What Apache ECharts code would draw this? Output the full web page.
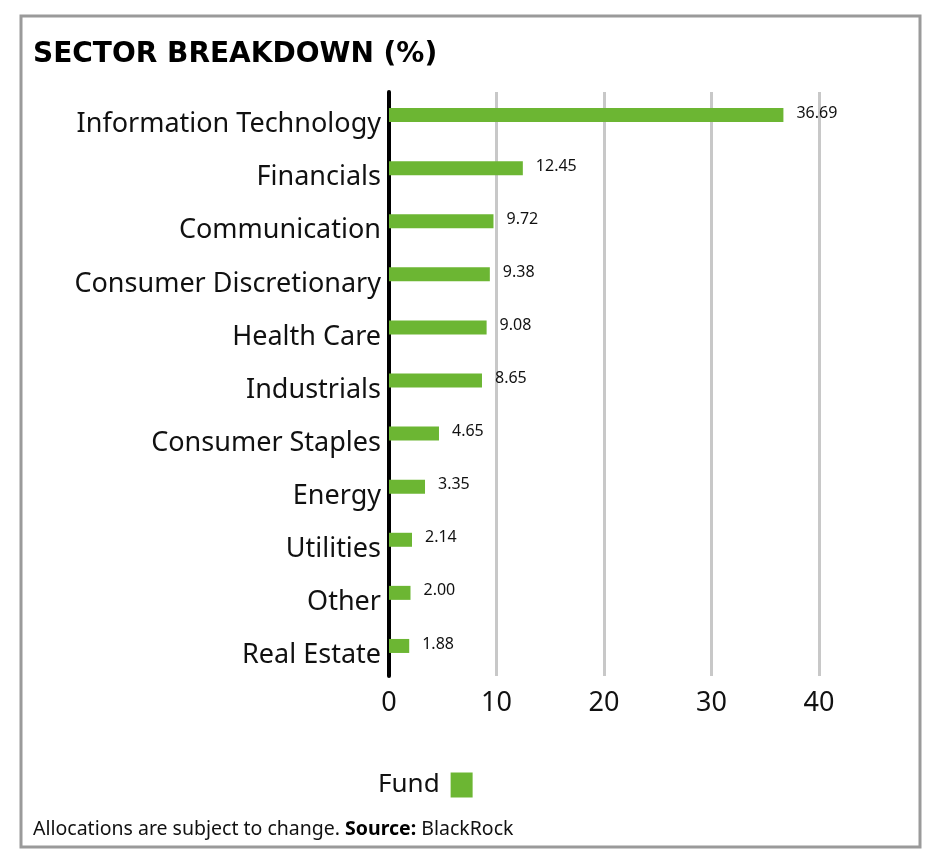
<!DOCTYPE html>
<html lang="en">
<head>
    <meta charset="UTF-8">
    <title>Sector Breakdown</title>
    <script src="https://cdn.jsdelivr.net/npm/echarts/dist/echarts.min.js"></script>
    <style>
        body { margin: 0; background: #fff; }
    </style>
</head>
<body>
    <div id="main" style="width: 936px;height:866px;"></div>
    <script>
        // sectors, top to bottom
        const sectors = ['Information Technology', 'Financials', 'Communication', 'Consumer Discretionary',
            'Health Care', 'Industrials', 'Consumer Staples', 'Energy', 'Utilities', 'Other', 'Real Estate'];
        const fundWeights = [36.69, 12.45, 9.72, 9.38, 9.08, 8.65, 4.65, 3.35, 2.14, 2.00, 1.88];
        const seriesName = 'Fund';
        const titleText = 'SECTOR BREAKDOWN (%)';

        const green = '#6cb633';
        const font = 'Noto Sans';

        var chart = echarts.init(document.getElementById('main'));
        var option = {
            backgroundColor: '#fff',
            animation: false,
            graphic: [{
                type: 'rect',
                shape: { x: 21, y: 16, width: 899, height: 831 },
                style: { fill: 'none', stroke: '#9a9a9a', lineWidth: 3 },
                silent: true
            }],
            title: [{
                text: titleText,
                left: 28,
                top: 36,
                textStyle: { fontFamily: 'DejaVu Sans', fontSize: 28, fontWeight: 'bold', color: '#000' }
            }, {
                text: '{n|Allocations are subject to change. }{b|Source:}{n| BlackRock}',
                left: 28,
                top: 814,
                textStyle: {
                    fontWeight: 'normal',
                    rich: {
                        n: { fontFamily: font, fontSize: 19.5, fontWeight: 'normal', color: '#111' },
                        b: { fontFamily: font, fontSize: 19.5, fontWeight: 'bold', color: '#000' }
                    }
                }
            }],
            legend: {
                data: [seriesName],
                left: 373,
                top: 767,
                align: 'right',
                icon: 'rect',
                itemWidth: 22,
                itemHeight: 25,
                textStyle: { fontFamily: font, fontSize: 26, color: '#111', padding: [0, 6, 0, 0] }
            },
            grid: {
                left: 389,
                right: 117,
                top: 92,
                height: 584
            },
            xAxis: {
                type: 'value',
                min: 0,
                max: 40,
                interval: 10,
                axisLine: { show: false },
                axisTick: { show: false },
                axisLabel: { fontFamily: font, fontSize: 27, color: '#111', margin: 14 },
                splitLine: { show: true, lineStyle: { color: '#c8c8c8', width: 3 } }
            },
            yAxis: {
                type: 'category',
                data: sectors,
                inverse: true,
                axisLine: { show: true, lineStyle: { color: '#000', width: 4 } },
                axisTick: { show: false },
                axisLabel: {
                    margin: 8,
                    formatter: v => '{s|' + v + '}',
                    rich: {
                        s: { fontFamily: font, fontSize: 27, color: '#111', padding: [12, 0, 0, 0] }
                    }
                }
            },
            series: [{
                name: seriesName,
                type: 'bar',
                data: fundWeights,
                barWidth: 14,
                barGap: 0,
                itemStyle: { color: green },
                label: {
                    show: true,
                    position: 'right',
                    distance: 13,
                    offset: [0, -2],
                    fontFamily: font,
                    fontSize: 16,
                    color: '#111',
                    formatter: p => p.value.toFixed(2)
                }
            }, {
                // empty spacer so the bars sit slightly above the label line
                name: 'spacer',
                type: 'bar',
                data: sectors.map(() => '-'),
                barWidth: 7,
                silent: true
            }]
        };

        chart.setOption(option);
    </script>
</body>
</html>
